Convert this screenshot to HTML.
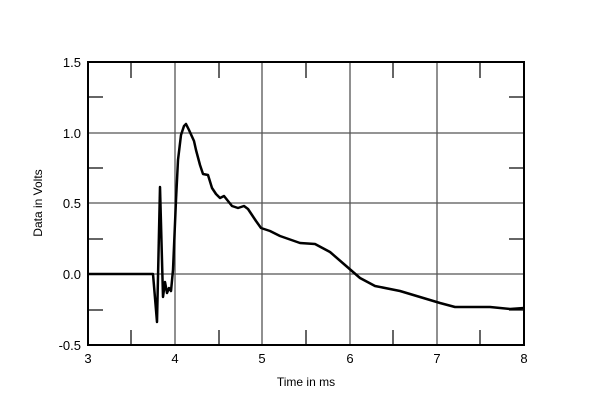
<!DOCTYPE html>
<html><head><style>body{margin:0;background:#fff}</style></head><body>
<svg width="600" height="411" xmlns="http://www.w3.org/2000/svg" font-family="Liberation Sans, sans-serif">
<rect width="600" height="411" fill="#fff"/>
<g stroke="#555" stroke-width="1.3">
<line x1="175" y1="62" x2="175" y2="345"/><line x1="262" y1="62" x2="262" y2="345"/>
<line x1="350" y1="62" x2="350" y2="345"/><line x1="437" y1="62" x2="437" y2="345"/>
<line x1="88" y1="133" x2="524" y2="133"/><line x1="88" y1="203" x2="524" y2="203"/>
<line x1="88" y1="274" x2="524" y2="274"/>
</g>
<g stroke="#000" stroke-width="1.2">
<line x1="131" y1="62" x2="131" y2="78"/><line x1="219" y1="62" x2="219" y2="78"/><line x1="306" y1="62" x2="306" y2="78"/><line x1="393" y1="62" x2="393" y2="78"/><line x1="480" y1="62" x2="480" y2="78"/>
<line x1="131" y1="345" x2="131" y2="330"/><line x1="219" y1="345" x2="219" y2="330"/><line x1="306" y1="345" x2="306" y2="330"/><line x1="393" y1="345" x2="393" y2="330"/><line x1="480" y1="345" x2="480" y2="330"/>
<line x1="88" y1="97" x2="103" y2="97"/><line x1="88" y1="168" x2="103" y2="168"/><line x1="88" y1="239" x2="103" y2="239"/><line x1="88" y1="310" x2="103" y2="310"/>
<line x1="524" y1="97" x2="509" y2="97"/><line x1="524" y1="168" x2="509" y2="168"/><line x1="524" y1="239" x2="509" y2="239"/><line x1="524" y1="310" x2="509" y2="310"/>
</g>
<rect x="88" y="62" width="436" height="283" fill="none" stroke="#000" stroke-width="2"/>
<polyline fill="none" stroke="#000" stroke-width="2.5" stroke-linejoin="round" points="88,274 153,274 157,322 160,187 163,297 165,282 167,293 169,288 171,291 173,270 176,200 178,160 181,135 184,126 186,124 189,130 194,141 196,150 200,165 203,174 208,175 212,188 216,194 220,198 224,196 228,201 232,206 238,208 244,206 248,209 252,215 256,221 261,228 270,231 280,236 300,243 315,244 330,252 345,265 360,278 375,286 400,291 420,297 440,303 455,307 470,307 490,307 510,309 524,308"/>
<g font-size="13" fill="#000" text-anchor="end">
<text x="81" y="67">1.5</text><text x="81" y="138">1.0</text><text x="81" y="208">0.5</text><text x="81" y="279">0.0</text><text x="81" y="350">-0.5</text>
</g>
<g font-size="13" fill="#000" text-anchor="middle">
<text x="88" y="363">3</text><text x="175" y="363">4</text><text x="262" y="363">5</text><text x="350" y="363">6</text><text x="437" y="363">7</text><text x="524" y="363">8</text>
<text x="306" y="386" font-size="12">Time in ms</text>
<text transform="translate(42,203) rotate(-90)" font-size="12">Data in Volts</text>
</g>
</svg>
</body></html>
